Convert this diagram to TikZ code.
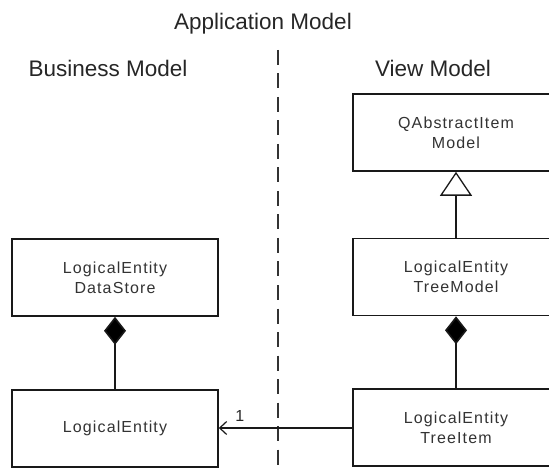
\documentclass[tikz,border=0pt]{standalone}
\usepackage{fontspec}
\setmainfont{Liberation Sans}
\newfontfamily\classfont[LetterSpace=7]{Liberation Sans}
\usetikzlibrary{arrows.meta}

\tikzset{
  heading/.style={anchor=base, inner sep=0pt, text=black!85,
    font=\fontsize{22.5}{26}\selectfont},
  classbox/.style={draw=black!90, line width=1.6pt, fill=white,
    minimum width=206pt, minimum height=77pt, inner sep=0pt,
    align=center, text=black!80, font=\classfont\fontsize{16}{20}\selectfont},
  link/.style={draw=black!90, line width=1.6pt},
  inherit/.style={link, -{Triangle[open, length=24pt, width=32pt, fill=white, line width=1.3pt]}},
  compose/.style={link, {Diamond[length=28pt, width=22pt, fill=black]}-},
  assoc/.style={link, -{Straight Barb[length=7pt, width=13pt, line width=1.2pt]}},
}

\begin{document}
\begin{tikzpicture}[x=1pt, y=-1pt]
  \useasboundingbox (0,0) rectangle (549,473);
  \clip (0,0) rectangle (549,473);

  % headings
  \node[heading] (title) at (263,30) {Application Model};
  \node[heading] (business) at (108,77) {Business Model};
  \node[heading] (view) at (433,77) {View Model};

  % boundary between the two models
  \coordinate (sepTop) at (277.7,50);
  \coordinate (sepBot) at (277.7,480);
  \draw[line width=1.8pt, black!80, dash pattern=on 15pt off 8.5pt] (sepTop) -- (sepBot);

  % business model classes
  \node[classbox] (store)  at (115,277.5) {LogicalEntity\\DataStore};
  \node[classbox] (entity) at (115,428.5) {LogicalEntity};

  % view model classes
  \node[classbox] (qaim)     at (456,132.5) {QAbstractItem\\Model};
  \node[classbox] (treemod)  at (456,277)   {LogicalEntity\\TreeModel};
  \node[classbox] (treeitem) at (456,427.5) {LogicalEntity\\TreeItem};

  % relations
  \draw[inherit] (treemod.north) -- (qaim.south);
  \draw[compose] (store.south) -- (entity.north);
  \draw[compose] (treemod.south) -- (treeitem.north);
  \draw[assoc] (treeitem.west |- 0,428) -- (entity.east |- 0,428);
  \path (entity.east |- 0,428) ++(21,-12)
    node[inner sep=0pt, text=black!85, font=\fontsize{16}{18}\selectfont] (mult) {1};
\end{tikzpicture}
\end{document}
